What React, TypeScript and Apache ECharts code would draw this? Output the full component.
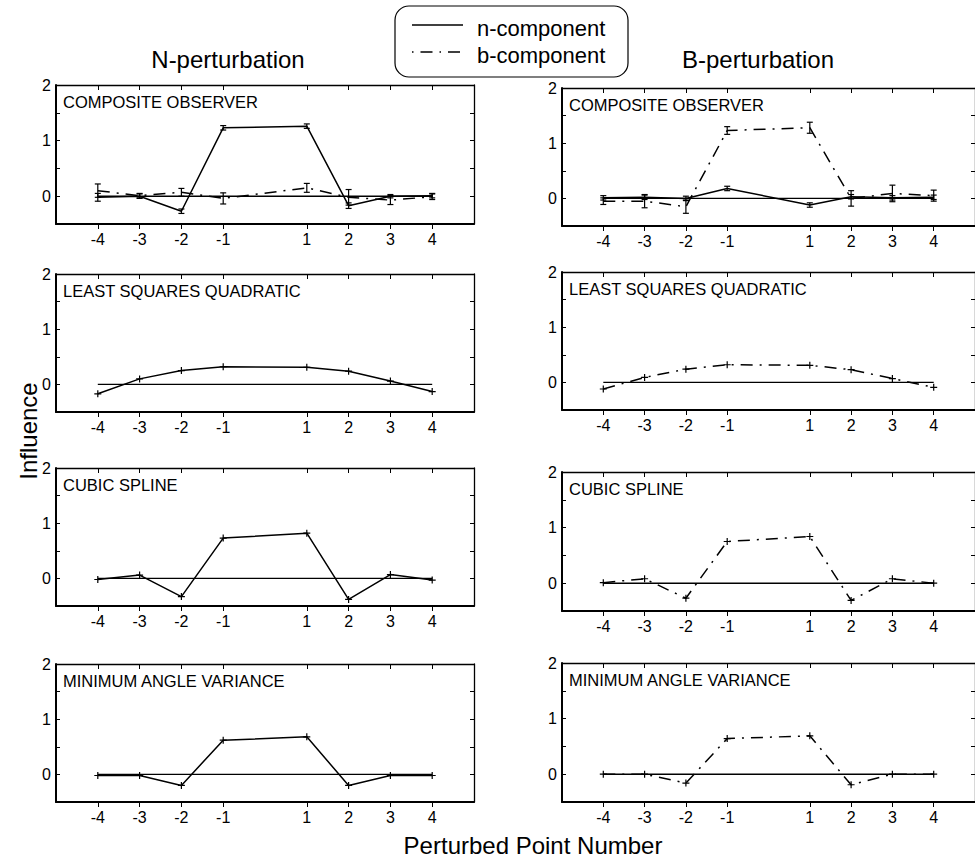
import React, { useEffect, useRef } from "react";
import * as echarts from "echarts";

// ---- data ----
const xPoints = [-4, -3, -2, -1, 1, 2, 3, 4];
const columnTitles = ["N-perturbation", "B-perturbation"];
const panelTitles = ["COMPOSITE OBSERVER", "LEAST SQUARES QUADRATIC", "CUBIC SPLINE", "MINIMUM ANGLE VARIANCE"];
const legendNames = ["n-component", "b-component"];
const yLabelValues = [0, 1, 2];

// Composite observer, N-perturbation
const coN_n = [-0.02, 0.0, -0.27, 1.23, 1.26, -0.17, 0.0, 0.01];
const coN_nErr = [0.07, 0.04, 0.04, 0.04, 0.04, 0.05, 0.03, 0.04];
const coN_b = [0.1, 0.01, 0.07, -0.04, 0.15, -0.02, -0.07, -0.01];
const coN_bErr = [0.12, 0.04, 0.07, 0.1, 0.08, 0.14, 0.08, 0.05];
// Composite observer, B-perturbation
const coB_n = [0.01, 0.02, 0.0, 0.18, -0.12, 0.03, 0.01, 0.02];
const coB_nErr = [0.04, 0.04, 0.04, 0.04, 0.04, 0.04, 0.04, 0.04];
const coB_b = [-0.05, -0.05, -0.15, 1.23, 1.28, 0.0, 0.09, 0.05];
const coB_bErr = [0.06, 0.12, 0.12, 0.07, 0.1, 0.14, 0.15, 0.1];
// Least squares quadratic
const lsqN_n = [-0.17, 0.1, 0.25, 0.32, 0.31, 0.24, 0.06, -0.13];
const lsqB_b = [-0.12, 0.09, 0.24, 0.32, 0.31, 0.23, 0.07, -0.09];
// Cubic spline
const csN_n = [-0.02, 0.06, -0.33, 0.73, 0.82, -0.38, 0.07, -0.03];
const csB_b = [0.01, 0.08, -0.27, 0.75, 0.84, -0.31, 0.08, 0.0];
// Minimum angle variance
const mavN_n = [-0.02, -0.02, -0.2, 0.62, 0.68, -0.2, -0.02, -0.02];
const mavB_b = [0.0, 0.0, -0.16, 0.64, 0.69, -0.19, 0.0, 0.0];
const zeroLine = [0, 0];

const FONT = "'Liberation Sans', Arial, Helvetica, sans-serif";
const DASHDOT = [12, 7, 2, 7];
const PLUS = "path://M0,5L10,5M5,0L5,10";

type Line = { kind: "n" | "b"; values: number[]; err?: number[] };

const panels: { col: number; row: number; top: number; bottom: number; lines: Line[] }[] = [
  { col: 0, row: 0, top: 85, bottom: 224, lines: [{ kind: "n", values: coN_n, err: coN_nErr }, { kind: "b", values: coN_b, err: coN_bErr }] },
  { col: 1, row: 0, top: 88, bottom: 226, lines: [{ kind: "n", values: coB_n, err: coB_nErr }, { kind: "b", values: coB_b, err: coB_bErr }] },
  { col: 0, row: 1, top: 274, bottom: 412, lines: [{ kind: "n", values: lsqN_n }] },
  { col: 1, row: 1, top: 272, bottom: 410, lines: [{ kind: "b", values: lsqB_b }] },
  { col: 0, row: 2, top: 468, bottom: 606, lines: [{ kind: "n", values: csN_n }] },
  { col: 1, row: 2, top: 472, bottom: 611, lines: [{ kind: "b", values: csB_b }] },
  { col: 0, row: 3, top: 664, bottom: 802, lines: [{ kind: "n", values: mavN_n }] },
  { col: 1, row: 3, top: 663, bottom: 802, lines: [{ kind: "b", values: mavB_b }] },
];
const colLeft = [56, 562];
const gridWidth = 418;

export default function App() {
  const ref = useRef<HTMLDivElement>(null);
  useEffect(() => {
    if (!ref.current) return;
    const chart = echarts.init(ref.current, null, { renderer: "svg" });
    const grid: any[] = [];
    const xAxis: any[] = [];
    const yAxis: any[] = [];
    const series: any[] = [];
    const graphic: any[] = [];

    panels.forEach((p, i) => {
      grid.push({ left: colLeft[p.col], top: p.top, width: gridWidth, height: p.bottom - p.top, containLabel: false });
      const xi = i * 2;
      xAxis.push({
        type: "value", gridIndex: i, min: -5, max: 5, interval: 1, position: "bottom",
        axisLine: { show: true, onZero: false, lineStyle: { color: "#000", width: 2 } },
        axisTick: { show: true, inside: false, length: 5, customValues: xPoints, lineStyle: { color: "#000", width: 1 } },
        axisLabel: { show: true, customValues: xPoints, color: "#000", fontSize: 16, fontFamily: FONT, margin: 7 },
        splitLine: { show: false },
      });
      xAxis.push({
        type: "value", gridIndex: i, min: -5, max: 5, interval: 1, position: "top",
        axisLine: { show: true, onZero: false, lineStyle: { color: "#000", width: 1.3 } },
        axisTick: { show: true, inside: true, length: 5, customValues: xPoints, lineStyle: { color: "#000", width: 1 } },
        axisLabel: { show: false },
        splitLine: { show: false },
      });
      yAxis.push({
        type: "value", gridIndex: i, min: -0.5, max: 2, interval: 0.5, position: "left",
        axisLine: { show: true, onZero: false, lineStyle: { color: "#000", width: 2 } },
        axisTick: { show: true, inside: true, length: 4, lineStyle: { color: "#000", width: 1 } },
        axisLabel: {
          show: true, color: "#000", fontSize: 16, fontFamily: FONT, margin: 5,
          formatter: (v: number) => (yLabelValues.includes(v) ? String(v) : ""),
        },
        splitLine: { show: false },
      });
      yAxis.push({
        type: "value", gridIndex: i, min: -0.5, max: 2, interval: 0.5, position: "right",
        axisLine: { show: true, onZero: false, lineStyle: { color: "#000", width: 1.3 } },
        axisTick: { show: true, inside: true, length: 4, lineStyle: { color: "#000", width: 1 } },
        axisLabel: { show: false },
        splitLine: { show: false },
      });

      // zero reference line
      series.push({
        type: "line", xAxisIndex: xi, yAxisIndex: xi, silent: true, symbol: "none",
        data: [[xPoints[0], zeroLine[0]], [xPoints[xPoints.length - 1], zeroLine[1]]],
        lineStyle: { color: "#000", width: 1.4, type: "solid" },
      });

      p.lines.forEach((ln) => {
        const hasErr = !!ln.err;
        series.push({
          type: "line", name: ln.kind === "n" ? legendNames[0] : legendNames[1],
          xAxisIndex: xi, yAxisIndex: xi,
          data: xPoints.map((x, k) => [x, ln.values[k]]),
          symbol: hasErr ? "none" : PLUS, symbolSize: 7,
          itemStyle: { color: "#000", borderColor: "#000", borderWidth: 1.2 },
          lineStyle: { color: "#000", width: 1.5, type: ln.kind === "n" ? "solid" : DASHDOT },
          z: 3,
        });
        if (hasErr) {
          const e = ln.err as number[];
          series.push({
            type: "custom", xAxisIndex: xi, yAxisIndex: xi,
            data: xPoints.map((x, k) => [x, ln.values[k] - e[k], ln.values[k] + e[k]]),
            encode: { x: 0, y: [1, 2] },
            renderItem: (_params: any, api: any) => {
              const x = api.value(0);
              const a = api.coord([x, api.value(2)]);
              const b = api.coord([x, api.value(1)]);
              const w = 3;
              const st = { stroke: "#000", lineWidth: 1.2 };
              return {
                type: "group",
                children: [
                  { type: "line", shape: { x1: a[0], y1: a[1], x2: b[0], y2: b[1] }, style: st },
                  { type: "line", shape: { x1: a[0] - w, y1: a[1], x2: a[0] + w, y2: a[1] }, style: st },
                  { type: "line", shape: { x1: b[0] - w, y1: b[1], x2: b[0] + w, y2: b[1] }, style: st },
                ],
              };
            },
            z: 4,
          });
        }
      });

      graphic.push({
        type: "text", left: colLeft[p.col] + 7, top: p.top + 8,
        style: { text: panelTitles[p.row], fontSize: 16.5, fontFamily: FONT, fill: "#000" },
      });
    });

    // column titles
    graphic.push({ type: "text", x: 228, y: 59, style: { text: columnTitles[0], fontSize: 24, fontFamily: FONT, fill: "#000", align: "center", verticalAlign: "middle" } });
    graphic.push({ type: "text", x: 758, y: 59, style: { text: columnTitles[1], fontSize: 24, fontFamily: FONT, fill: "#000", align: "center", verticalAlign: "middle" } });
    // axis titles
    graphic.push({ type: "text", x: 28, y: 431, rotation: Math.PI / 2, style: { text: "Influence", fontSize: 24, fontFamily: FONT, fill: "#000", align: "center", verticalAlign: "middle" } });
    graphic.push({ type: "text", x: 533, y: 845, style: { text: "Perturbed Point Number", fontSize: 24, fontFamily: FONT, fill: "#000", align: "center", verticalAlign: "middle" } });
    // legend
    graphic.push({ type: "rect", shape: { x: 395, y: 6, width: 233, height: 71, r: 14 }, style: { fill: "#fff", stroke: "#000", lineWidth: 1.2 }, z: 10 });
    graphic.push({ type: "line", shape: { x1: 412, y1: 25, x2: 463, y2: 25 }, style: { stroke: "#000", lineWidth: 1.3 }, z: 11 });
    graphic.push({ type: "line", shape: { x1: 412, y1: 52, x2: 463, y2: 52 }, style: { stroke: "#000", lineWidth: 1.3, lineDash: [1.5, 7, 12, 7] }, z: 11 });
    graphic.push({ type: "text", x: 477, y: 28, style: { text: legendNames[0], fontSize: 22, fontFamily: FONT, fill: "#000", align: "left", verticalAlign: "middle" }, z: 11 });
    graphic.push({ type: "text", x: 477, y: 55, style: { text: legendNames[1], fontSize: 22, fontFamily: FONT, fill: "#000", align: "left", verticalAlign: "middle" }, z: 11 });

    chart.setOption({
      animation: false,
      backgroundColor: "#fff",
      textStyle: { fontFamily: FONT },
      grid, xAxis, yAxis, series, graphic,
    });
    return () => chart.dispose();
  }, []);
  return <div ref={ref} style={{ position: "fixed", left: 0, top: 0, width: 975, height: 861, background: "#fff" }} />;
}
